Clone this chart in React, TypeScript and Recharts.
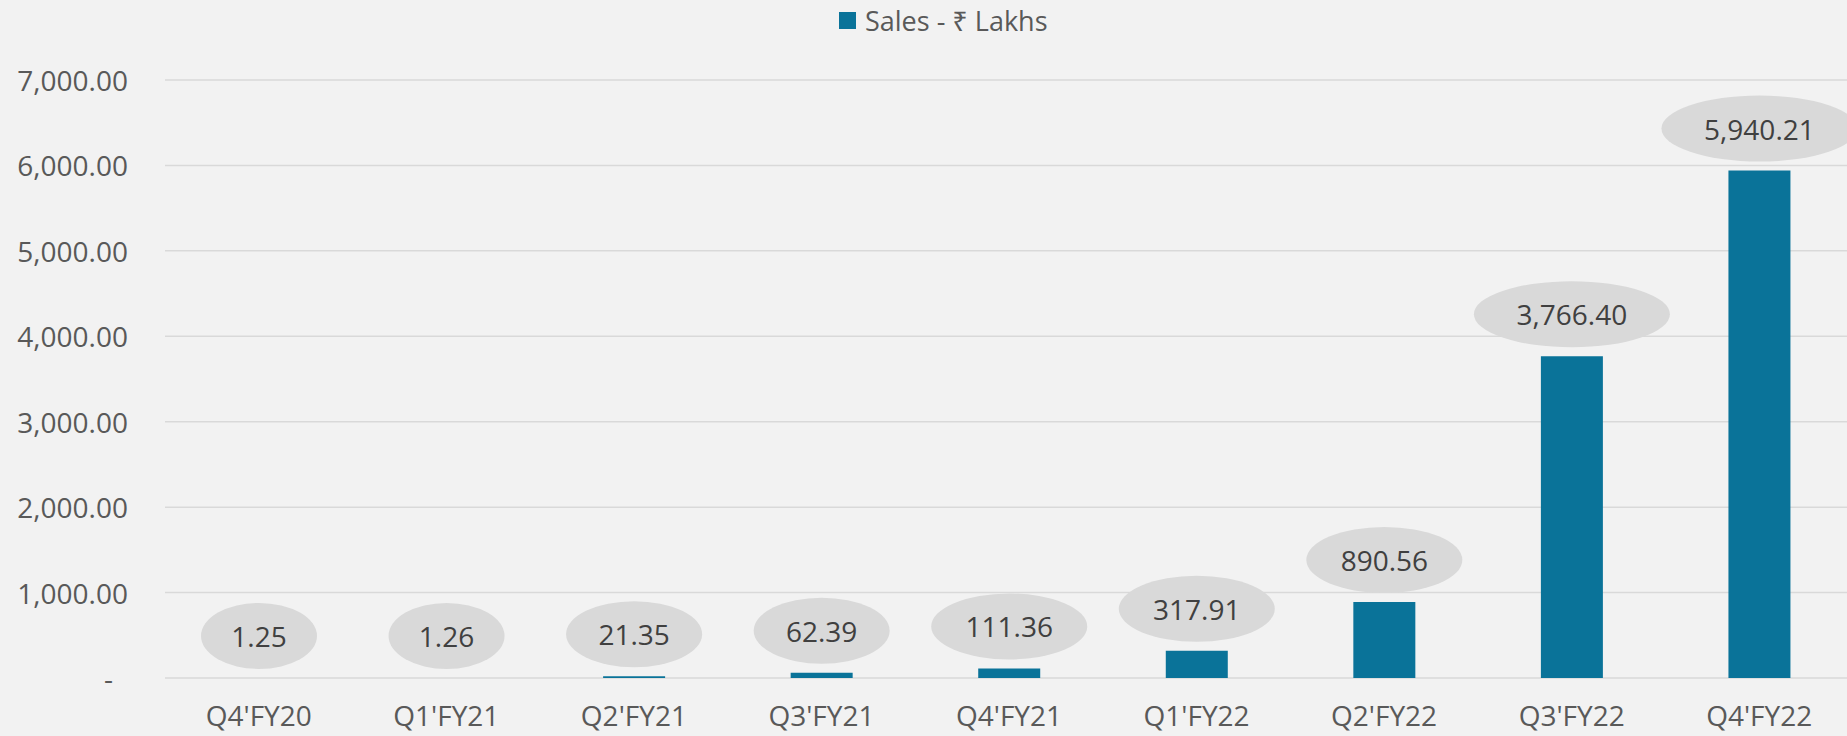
import { BarChart, Bar, XAxis, YAxis, CartesianGrid, LabelList } from 'recharts'

const CATEGORIES = ["Q4'FY20", "Q1'FY21", "Q2'FY21", "Q3'FY21", "Q4'FY21", "Q1'FY22", "Q2'FY22", "Q3'FY22", "Q4'FY22"]
const SALES = [1.25, 1.26, 21.35, 62.39, 111.36, 317.91, 890.56, 3766.4, 5940.21]
const Y_TICKS = [0, 1000, 2000, 3000, 4000, 5000, 6000, 7000]
const SERIES_NAME = 'Sales - ₹ Lakhs'

const BAR_COLOR = '#0a7399'
const GRID_COLOR = '#d9d9d9'
const AXIS_TEXT = '#595959'
const LABEL_TEXT = '#404040'
const BUBBLE_FILL = '#d9d9d9'
const FONT = '"Open Sans", "Noto Sans", "DejaVu Sans", sans-serif'

const PLOT_TOP = 80
const PLOT_BOTTOM = 678

const data = CATEGORIES.map((c, i) => ({ quarter: c, sales: SALES[i] }))

const fmt = (v: number) =>
  v.toLocaleString('en-US', { minimumFractionDigits: 2, maximumFractionDigits: 2 })

function YTick(props: any) {
  const { y, payload } = props
  if (payload.value === 0) {
    return (
      <text x={113} y={y} textAnchor="end" dominantBaseline="central" fill={AXIS_TEXT} fontSize={28} fontFamily={FONT}>
        -
      </text>
    )
  }
  return (
    <text x={128} y={y} textAnchor="end" dominantBaseline="central" fill={AXIS_TEXT} fontSize={28} fontFamily={FONT}>
      {fmt(payload.value)}
    </text>
  )
}

function XTick(props: any) {
  const { x, payload } = props
  return (
    <text x={x} y={PLOT_BOTTOM + 37} textAnchor="middle" dominantBaseline="central" fill={AXIS_TEXT} fontSize={28} fontFamily={FONT}>
      {payload.value}
    </text>
  )
}

// grey oval bubble above each bar, sized by label length
function Bubble(props: any) {
  const { x, y, width, value } = props
  const label = fmt(Number(value))
  const cx = Number(x) + Number(width) / 2
  const cy = Number(y) - 42
  const rx = (36 + 20 * label.length) / 2
  return (
    <g>
      <ellipse cx={cx} cy={cy} rx={rx} ry={33} fill={BUBBLE_FILL} />
      <text x={cx} y={cy} textAnchor="middle" dominantBaseline="central" fill={LABEL_TEXT} fontSize={28} fontFamily={FONT}>
        {label}
      </text>
    </g>
  )
}

export default function App() {
  return (
    <div
      style={{
        position: 'absolute',
        left: 0,
        top: 0,
        width: 1847,
        height: 736,
        overflow: 'hidden',
        background: '#f2f2f2',
        fontFamily: FONT,
      }}
    >
      <div
        style={{
          position: 'absolute',
          left: 839,
          top: 3,
          height: 34,
          display: 'flex',
          alignItems: 'center',
          color: AXIS_TEXT,
          fontSize: 27,
          whiteSpace: 'nowrap',
        }}
      >
        <span style={{ display: 'inline-block', width: 17, height: 17, background: BAR_COLOR, marginRight: 9 }} />
        {SERIES_NAME}
      </div>
      <BarChart
        width={1853}
        height={736}
        data={data}
        margin={{ top: PLOT_TOP, right: 0, bottom: 0, left: 0 }}
        style={{ position: 'absolute', left: 0, top: 0 }}
      >
        <CartesianGrid vertical={false} stroke={GRID_COLOR} strokeWidth={1.5} />
        <XAxis dataKey="quarter" tickLine={false} axisLine={false} tick={<XTick />} height={736 - PLOT_BOTTOM} interval={0} />
        <YAxis
          domain={[0, 7000]}
          ticks={Y_TICKS}
          width={165}
          tickLine={false}
          axisLine={false}
          tick={<YTick />}
          interval={0}
        />
        <Bar dataKey="sales" name={SERIES_NAME} fill={BAR_COLOR} barSize={62} isAnimationActive={false}>
          <LabelList dataKey="sales" content={<Bubble />} />
        </Bar>
      </BarChart>
    </div>
  )
}
